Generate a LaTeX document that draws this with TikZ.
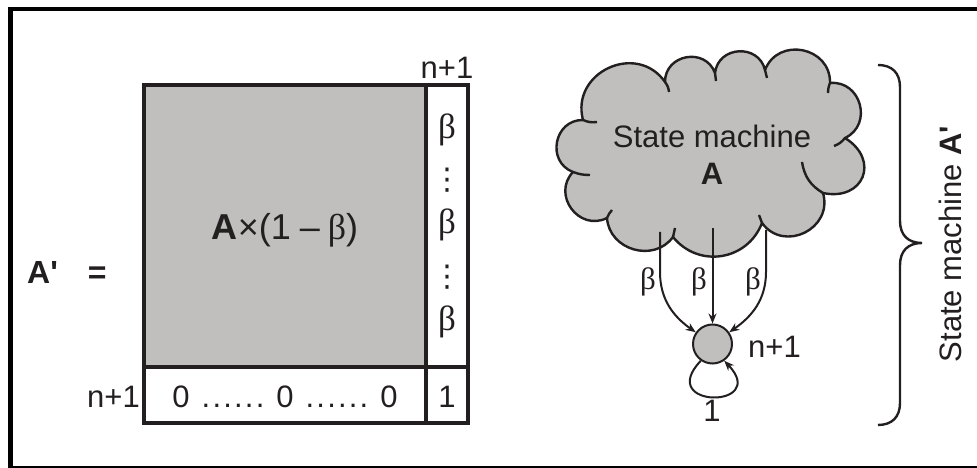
\documentclass[tikz,border=0pt]{standalone}
\usepackage{fontspec}
\setmainfont{Liberation Sans}
\newfontfamily\grk{Liberation Serif}
\newfontfamily\dv{DejaVu Sans}
\usetikzlibrary{arrows.meta}
\definecolor{ink}{HTML}{231F20}
\definecolor{cellgray}{HTML}{C0BFBD}
\newcommand\bt{{\grk β}}
\newcommand\dotrun{.\kern2.2pt.\kern2.2pt.\kern2.2pt.\kern2.2pt.\kern2.2pt.}

\begin{document}
\begin{tikzpicture}[x=1pt,y=1pt,
  lbl/.style={text=ink, inner sep=0pt, font=\fontsize{31}{36}\selectfont},
  grid/.style={draw=ink, line width=3.2pt},
  flow/.style={draw=ink, line width=2pt, -{Stealth[length=10pt,width=8pt]}},
  bump/.style={bend left=80, looseness=1.4},
  hook/.style={draw=ink, line width=2.4pt},
  vdot/.style={lbl, font=\fontsize{30}{30}\selectfont\dv},
]
\useasboundingbox (0,0) rectangle (977,468);

% outer frame
\draw[line width=4.5pt] (10.5,459) rectangle (995,0);

% ---------- matrix ----------
\fill[cellgray] (144,383) rectangle (426,101);
\draw[grid] (144,383) rectangle (468,45);
\draw[grid] (426,383) -- (426,45);
\draw[grid] (144,101) -- (468,101);

\node[lbl, font=\fontsize{32}{36}\selectfont\bfseries, anchor=west] (lhs) at (27,196) {A\textquotesingle\hspace{30pt}=};
\node[lbl] (ntop) at (447,400) {n+1};
\node[lbl, font=\fontsize{36}{40}\selectfont] (core) at (285,238) {\textbf{A}×(1\hspace{9pt}–\hspace{8pt}\bt)};
\node[lbl, font=\fontsize{35}{40}\selectfont] (b1) at (447,338) {\bt};
\node[vdot] (v1) at (447,288) {⋮};
\node[lbl, font=\fontsize{35}{40}\selectfont] (b2) at (447,243) {\bt};
\node[vdot] (v2) at (447,191) {⋮};
\node[lbl, font=\fontsize{35}{40}\selectfont] (b3) at (447,146) {\bt};
\node[lbl, anchor=east] (nleft) at (140,71) {n+1};
\node[lbl] (zeros) at (285,71) {0\hspace{12pt}\dotrun\hspace{12pt}0\hspace{12pt}\dotrun\hspace{12pt}0};
\node[lbl] (one) at (447,71) {1};

% ---------- cloud ----------
\coordinate (n1) at (583,348);
\coordinate (n2) at (665,386);
\coordinate (n3) at (715,395);
\coordinate (n4) at (765,398);
\coordinate (n5) at (830,385);
\coordinate (n6) at (845,330);
\coordinate (n7) at (823,275);
\coordinate (n8) at (762,245);
\coordinate (n9) at (673,231);
\coordinate (n10) at (607,250);
\coordinate (n11) at (573,296);
\path[fill=cellgray, draw=ink, line width=2.4pt, line join=round]
  (n11) to[bump] (n1) to[bump] (n2) to[bump] (n3) to[bump] (n4)
  to[bump] (n5) to[bump] (n6) to[bump, looseness=1.8] (n7) to[bump] (n8)
  to[bend left=60, looseness=1.15] (n9) to[bend left=70, looseness=1.2] (n10)
  to[bump] (n11) -- cycle;
% inner strokes of the cloud
\draw[hook] (n1) to[bend right=15] ++(14,-2);
\draw[hook] (n2) to[bend left=15] ++(4,-10);
\draw[hook] (n3) -- ++(1,-8);
\draw[hook] (n4) -- ++(2,-8);
\draw[hook] (n5) to[bend right=10] ++(-2,-10);
\draw[hook] (n6) to[bend left=15] ++(-11,-8);
\draw[hook] (n7) to[bend left=25] (802,306);
\draw[hook] (n8) -- ++(-3,8);
\draw[hook] (n9) -- ++(2,9);
\draw[hook] (n10) to[bend left=10] ++(5,8);
\draw[hook] (n11) to[bend right=10] ++(17,-3);

\node[lbl] (ct1) at (712,332) {State machine};
\node[lbl] (ct2) at (712,294) {\textbf{A}};

% ---------- absorbing state ----------
\node[circle, draw=ink, fill=cellgray, line width=2pt, minimum size=39pt, inner sep=0pt] (s) at (712.5,124) {};
\node[lbl, anchor=west] (sl) at (748,121) {n+1};

\coordinate (l0) at (660,236);
\coordinate (m0) at (712.5,240);
\coordinate (r0) at (766,238);
\draw[flow] (l0) -- (660,196) to[out=-90, in=145] (s.145);
\draw[flow] (m0) -- (s.north);
\draw[flow] (r0) -- (766,196) to[out=-90, in=35] (s.35);
\node[lbl] (bl) at (648,186) {\bt};
\node[lbl] (bm) at (699,186) {\bt};
\node[lbl] (br) at (753,186) {\bt};

\draw[flow] (s.235) .. controls (655,59) and (770,59) .. (s.305);
\node[lbl] (loop) at (712,57) {1};

% ---------- brace ----------
\draw[ink, line width=2.4pt]
  (878,403) .. controls (892,403) and (900,395) .. (900,381) -- (900,247)
  .. controls (900,233) and (908,225) .. (922,225)
  .. controls (908,225) and (900,217) .. (900,203) -- (900,65)
  .. controls (900,51) and (892,43) .. (878,43);
\node[lbl, rotate=90] (side) at (950,224) {State machine \textbf{A\textquotesingle}};
\end{tikzpicture}
\end{document}
